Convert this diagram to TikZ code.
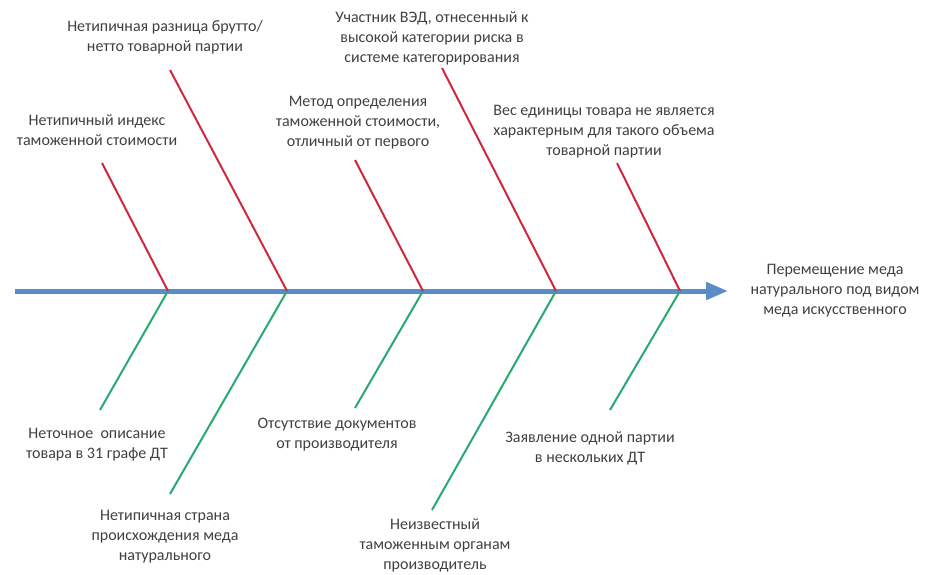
\documentclass[tikz,border=0pt]{standalone}
\usepackage{fontspec}
\setmainfont{Carlito}
\usetikzlibrary{arrows.meta}
\definecolor{txt}{RGB}{64,64,64}
\definecolor{bonered}{RGB}{205,40,62}
\definecolor{bonegreen}{RGB}{38,170,112}
\definecolor{spineblue}{RGB}{90,140,200}
\tikzset{
  lbl/.style={align=center,text=txt,font=\fontsize{16}{20}\selectfont,inner sep=0pt},
  redbone/.style={draw=bonered,line width=2pt},
  greenbone/.style={draw=bonegreen,line width=2pt},
  spine/.style={draw=spineblue,line width=5pt,-{Triangle[length=22pt,width=17pt]}}
}
\begin{document}
\begin{tikzpicture}[x=1pt,y=-1pt]
\useasboundingbox (0,0) rectangle (928,574);
% spine
\coordinate (s0) at (15,291);
\coordinate (tip) at (728,291);
\coordinate (j1) at (168,291);
\coordinate (j2) at (287,291);
\coordinate (j3) at (423,291);
\coordinate (j4) at (556,291);
\coordinate (j5) at (680,291);
\draw[spine] (s0) -- (tip);
% upper bone ends
\coordinate (u1) at (102,163);
\coordinate (u2) at (170,70);
\coordinate (u3) at (355,160);
\coordinate (u4) at (442,68);
\coordinate (u5) at (617,163);
% lower bone ends
\coordinate (d1) at (100,410);
\coordinate (d2) at (170,494);
\coordinate (d3) at (355,408);
\coordinate (d4) at (432,510);
\coordinate (d5) at (610,410);
\draw[redbone] (u1) -- (j1);
\draw[redbone] (u2) -- (j2);
\draw[redbone] (u3) -- (j3);
\draw[redbone] (u4) -- (j4);
\draw[redbone] (u5) -- (j5);
\draw[greenbone] (j1) -- (d1);
\draw[greenbone] (j2) -- (d2);
\draw[greenbone] (j3) -- (d3);
\draw[greenbone] (j4) -- (d4);
\draw[greenbone] (j5) -- (d5);
% labels
\node[lbl] (t1) at (97,130) {Нетипичный индекс\\таможенной стоимости};
\node[lbl] (t2) at (165,37) {Нетипичная разница брутто/\\нетто товарной партии};
\node[lbl] (t3) at (358,123) {Метод определения\\таможенной стоимости,\\отличный от первого};
\node[lbl] (t4) at (432,38) {Участник ВЭД, отнесенный к\\высокой категории риска в\\системе категорирования};
\node[lbl] (t5) at (604,132) {Вес единицы товара не является\\характерным для такого объема\\товарной партии};
\node[lbl] (b1) at (97,445) {Неточное\ \ описание\\товара в 31 графе ДТ};
\node[lbl] (b2) at (165,537) {Нетипичная страна\\происхождения меда\\натурального};
\node[lbl] (b3) at (337,435) {Отсутствие документов\\от производителя};
\node[lbl] (b4) at (435,545) {Неизвестный\\таможенным органам\\производитель};
\node[lbl] (b5) at (590,448) {Заявление одной партии\\в нескольких ДТ};
\node[lbl] (eff) at (835,291) {Перемещение меда\\натурального под видом\\меда искусственного};
\end{tikzpicture}
\end{document}
